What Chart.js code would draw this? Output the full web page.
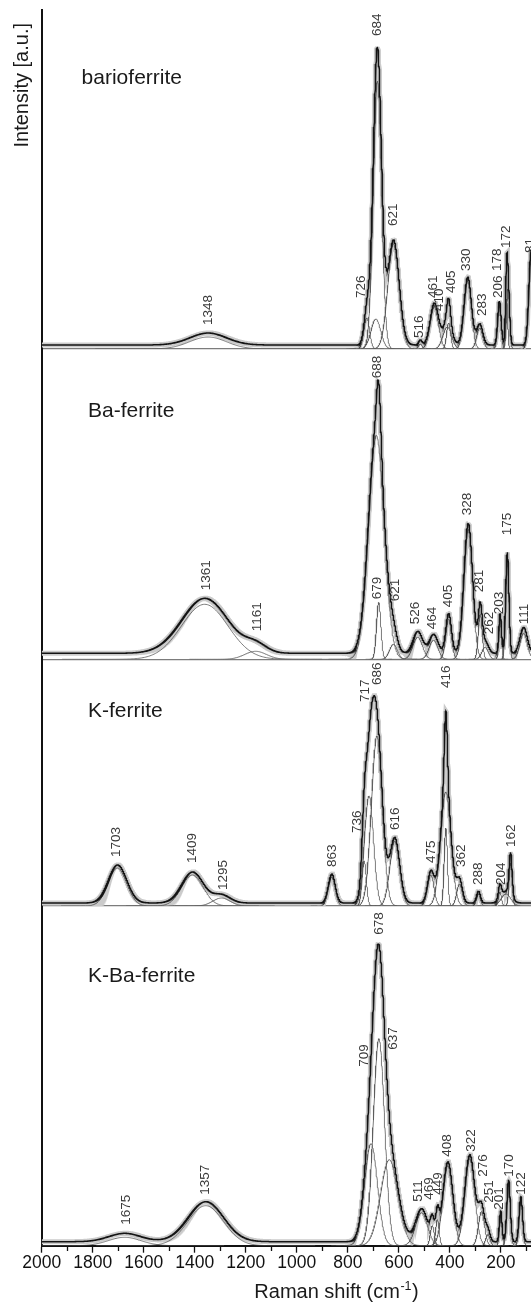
<!DOCTYPE html>
<html>
<head>
<meta charset="utf-8">
<script src="https://cdn.jsdelivr.net/npm/chart.js@4.4.1/dist/chart.umd.min.js"></script>
<style>
  html, body { margin: 0; padding: 0; background: #ffffff; }
  #wrap { width: 531px; height: 1303px; position: relative; overflow: hidden; }
</style>
</head>
<body>
<div id="wrap"><canvas id="c" width="531" height="1303"></canvas></div>
<script>
// ---------------- data ----------------
// Raman shift (cm-1) on x, intensity in arbitrary units on y.
const xMajorTicks = [2000, 1800, 1600, 1400, 1200, 1000, 800, 600, 400, 200];
const panelNames = ['barioferrite', 'Ba-ferrite', 'K-ferrite', 'K-Ba-ferrite'];

// barioferrite : fitted bands (centre, height, FWHM) and constant background
const p1Centers = [1348, 726, 690, 684, 621, 516, 461, 410, 405, 330, 283, 206, 178, 172, 81];
const p1Heights = [12, 31, 30, 268, 105, 5, 42, 22, 26, 68, 21, 44, 50, 60, 96];
const p1Widths  = [170, 26, 45, 38, 52, 16, 38, 40, 18, 34, 28, 16, 10, 14, 22];
const p1Background = 4;
const p1Labels    = ['1348', '726', '684', '621', '516', '461', '410', '405', '330', '283', '206', '178', '172', '81'];
const p1LabelAt   = [1348, 747, 686, 621, 518, 466, 442, 393, 335, 273, 212, 213, 180, 84];
const p1LabelBase = [24, 51, 313, 123, 11, 51, 38, 56, 78, 33, 51, 78, 101, 96];

// Ba-ferrite
const p2Centers = [1361, 1161, 688, 679, 621, 526, 464, 405, 328, 281, 262, 203, 175, 111];
const p2Heights = [55, 8, 224, 57, 15, 22, 19, 40, 130, 45, 12, 40, 101, 26];
const p2Widths  = [215, 100, 72, 20, 36, 44, 40, 26, 40, 18, 30, 12, 15, 34];
const p2Background = 6;
const p2Labels    = ['1361', '1161', '688', '679', '621', '526', '464', '405', '328', '281', '262', '203', '175', '111'];
const p2LabelAt   = [1354, 1155, 686, 684, 615, 534, 469, 408, 332, 283, 247, 208, 175, 107];
const p2LabelBase = [69, 28, 281, 60, 58, 35, 30, 52, 144, 67, 25, 45, 124, 35];

// K-ferrite
const p3Centers = [1703, 1409, 1295, 863, 736, 717, 686, 616, 475, 416, 416, 362, 288, 204, 180, 162];
const p3Heights = [38, 31, 8, 29, 45, 110, 170, 65, 31, 114, 78, 22, 12, 14, 12, 43];
const p3Widths  = [85, 100, 80, 32, 20, 42, 50, 45, 30, 48, 15, 26, 18, 14, 45, 14];
const p3Background = 3;
const p3Labels    = ['1703', '1409', '1295', '863', '736', '717', '686', '616', '475', '416', '362', '288', '204', '162'];
const p3LabelAt   = [1709, 1411, 1288, 861, 764, 730, 684, 614, 471, 416, 354, 287, 200, 160];
const p3LabelBase = [49, 43, 16, 39, 73, 204, 221, 76, 43, 218, 39, 21, 21, 59];

// K-Ba-ferrite
const p4Centers = [1675, 1357, 709, 678, 637, 511, 469, 449, 408, 322, 276, 251, 201, 170, 122];
const p4Heights = [8.4, 40, 102, 207, 86, 33, 20, 26, 80, 87, 34, 11, 31, 62, 45];
const p4Widths  = [150, 165, 60, 52, 80, 55, 18, 16, 46, 46, 28, 20, 12, 16, 16];
const p4Background = 4;
const p4Labels    = ['1675', '1357', '709', '678', '637', '511', '469', '449', '408', '322', '276', '251', '201', '170', '122'];
const p4LabelAt   = [1670, 1357, 737, 675, 620, 525, 479, 444, 410, 318, 271, 244, 205, 167, 122];
const p4LabelBase = [21, 51, 179, 311, 196, 44, 46, 51, 89, 94, 69, 43, 36, 69, 51];

// ---------------- layout / style ----------------
const FONT = '"Liberation Sans", Arial, Helvetica, sans-serif';
const X_MIN = 82, X_MAX = 2000;
const panelSpan = [339, 310.3, 246.7, 339.7];          // pixel heights of the four stacked panels
const namePos = [[81.6, 84], [88, 417.3], [88, 717.3], [88, 981.7]];

const panels = [
  {c: p1Centers, h: p1Heights, w: p1Widths, bg: p1Background, lab: p1Labels, at: p1LabelAt, base: p1LabelBase},
  {c: p2Centers, h: p2Heights, w: p2Widths, bg: p2Background, lab: p2Labels, at: p2LabelAt, base: p2LabelBase},
  {c: p3Centers, h: p3Heights, w: p3Widths, bg: p3Background, lab: p3Labels, at: p3LabelAt, base: p3LabelBase},
  {c: p4Centers, h: p4Heights, w: p4Widths, bg: p4Background, lab: p4Labels, at: p4LabelAt, base: p4LabelBase}
];

function band(x, c, h, w) { const d = (x - c) / w; return h * Math.exp(-4 * Math.LN2 * d * d); }

function envelope(p) {
  const pts = [];
  for (let x = X_MIN; x <= X_MAX + 1e-9; x += 0.5) {
    let y = p.bg;
    for (let k = 0; k < p.c.length; k++) y += band(x, p.c[k], p.h[k], p.w[k]);
    pts.push({x: x, y: y});
  }
  return pts;
}
function component(c, h, w) {
  const pts = [];
  const lo = Math.max(X_MIN, c - 2.6 * w), hi = Math.min(X_MAX, c + 2.6 * w);
  const step = w / 40;
  for (let x = lo; x <= hi + 1e-9; x += step) pts.push({x: x, y: band(x, c, h, w)});
  return pts;
}

const datasets = [];
panels.forEach((p, i) => {
  const yId = 'y' + (i + 1);
  const env = envelope(p);
  datasets.push({data: env, yAxisID: yId, borderColor: '#cbcbcb', borderWidth: 5, order: 30});
  p.c.forEach((c, k) => {
    datasets.push({data: component(c, p.h[k], p.w[k]), yAxisID: yId, borderColor: '#5a5a5a', borderWidth: 0.8, order: 20});
  });
  datasets.push({data: env, yAxisID: yId, borderColor: '#141414', borderWidth: 1.5, order: 10});
});
datasets.forEach(d => { d.parsing = false; d.pointRadius = 0; d.fill = false; d.tension = 0; });

const scales = {
  x: {
    type: 'linear', position: 'bottom', reverse: true, min: X_MIN, max: X_MAX,
    afterBuildTicks: s => {
      const t = [];
      for (let v = 100; v <= X_MAX; v += 100) t.push({value: v});
      s.ticks = t;
    },
    afterFit: s => { s.height = 57.3; },
    ticks: {
      autoSkip: false, maxRotation: 0, minRotation: 0, padding: 0, color: '#111',
      font: {family: FONT, size: 17.5},
      callback: v => (xMajorTicks.includes(v) ? String(v) : '')
    },
    grid: {
      display: true, drawOnChartArea: false, drawTicks: true, tickLength: 7, tickWidth: 1.3, tickColor: '#111',
      tickBorderDash: ctx => (ctx.tick && !xMajorTicks.includes(ctx.tick.value)) ? [4, 40] : []
    },
    border: {display: true, color: '#111', width: 2}
  }
};
panelSpan.forEach((span, i) => {
  scales['y' + (i + 1)] = {
    type: 'linear', position: 'left', stack: 'panels', stackWeight: span, weight: 10 - i,
    min: 0, max: span,
    afterBuildTicks: s => { s.ticks = [{value: 0}]; },
    afterFit: s => { s.width = 0; },
    ticks: {display: false},
    grid: {display: true, drawOnChartArea: true, drawTicks: false, color: '#7c7c7c', lineWidth: 1.2},
    border: {display: true, color: '#111', width: 2},
    title: {display: false}
  };
});

const textPlugin = {
  id: 'texts',
  afterDraw(chart) {
    const ctx = chart.ctx, xs = chart.scales.x;
    panels.forEach((p, i) => {
      const ys = chart.scales['y' + (i + 1)];
      ctx.save();
      ctx.fillStyle = '#3a3a3a';
      ctx.font = '13.5px ' + FONT;
      ctx.textAlign = 'left';
      ctx.textBaseline = 'middle';
      p.lab.forEach((t, k) => {
        const x = xs.getPixelForValue(p.at[k]);
        const y = ys.getPixelForValue(p.base[k]);
        ctx.save();
        ctx.translate(x, y);
        ctx.rotate(-Math.PI / 2);
        ctx.fillText(t, 0, 0);
        ctx.restore();
      });
      ctx.fillStyle = '#1a1a1a';
      ctx.font = '21px ' + FONT;
      ctx.textBaseline = 'alphabetic';
      ctx.fillText(panelNames[i], namePos[i][0], namePos[i][1]);
      ctx.restore();
    });
    // y axis title
    ctx.save();
    ctx.fillStyle = '#1a1a1a';
    ctx.font = '20px ' + FONT;
    ctx.translate(28, 23);
    ctx.rotate(-Math.PI / 2);
    ctx.textAlign = 'right';
    ctx.textBaseline = 'alphabetic';
    ctx.fillText('Intensity [a.u.]', 0, 0);
    ctx.restore();
    // x axis title with superscript
    ctx.save();
    ctx.fillStyle = '#1a1a1a';
    ctx.textBaseline = 'alphabetic';
    const main = 'Raman shift (cm', sup = '-1', close = ')';
    ctx.font = '20px ' + FONT;
    const w1 = ctx.measureText(main).width, w3 = ctx.measureText(close).width;
    ctx.font = '12.5px ' + FONT;
    const w2 = ctx.measureText(sup).width;
    let x0 = 336 - (w1 + w2 + w3) / 2;
    const yb = 1298;
    ctx.font = '20px ' + FONT;
    ctx.fillText(main, x0, yb);
    ctx.font = '12.5px ' + FONT;
    ctx.fillText(sup, x0 + w1 + 0.5, yb - 8);
    ctx.font = '20px ' + FONT;
    ctx.fillText(close, x0 + w1 + w2 + 1, yb);
    ctx.restore();
  }
};

Chart.defaults.font.family = FONT;
new Chart(document.getElementById('c'), {
  type: 'line',
  data: {datasets: datasets},
  options: {
    responsive: false, animation: false, devicePixelRatio: 1,
    layout: {padding: {left: 41.7, right: 0, top: 10, bottom: 0}},
    plugins: {legend: {display: false}, tooltip: {enabled: false}},
    events: [],
    scales: scales
  },
  plugins: [textPlugin]
});
</script>
</body>
</html>
